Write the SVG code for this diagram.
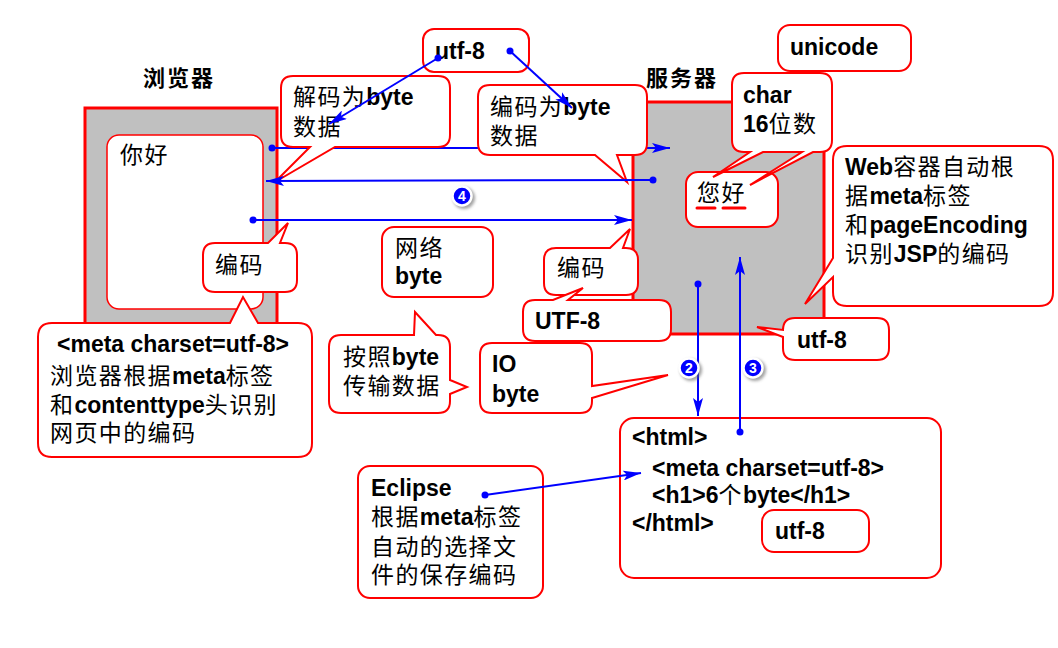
<svg xmlns="http://www.w3.org/2000/svg" width="1058" height="648" viewBox="0 0 1058 648">
<defs>
<style>
.t{font-family:"Liberation Sans","Noto Sans CJK SC",sans-serif;font-size:23px;fill:#000;letter-spacing:1.4px}
.b{font-weight:bold;letter-spacing:0}
.lbl{font-family:"Noto Sans CJK SC",sans-serif;font-size:22px;font-weight:bold;letter-spacing:2px;fill:#000}
.co{fill:#fff;stroke:#f00;stroke-width:2;stroke-linejoin:miter}
.sys{fill:#c0c0c0;stroke:#f00;stroke-width:3}
.ln{stroke:#00f;stroke-width:2;fill:none}
.arr{marker-end:url(#ah)}
.dot{fill:#00f}
.num{fill:#00f;stroke:#fff;stroke-width:2.5}
.nt{font-family:"Liberation Sans",sans-serif;font-size:14px;font-weight:bold;fill:#fff;text-anchor:middle}
.ul{stroke:#f00;stroke-width:3;stroke-linecap:round}
.uls{stroke:#999;stroke-width:3;stroke-linecap:round;opacity:.5}
</style>
<marker id="ah" markerUnits="userSpaceOnUse" markerWidth="18" markerHeight="10" refX="18" refY="5" orient="auto">
<path d="M0,0 L18,5 L0,10 L4,5 Z" fill="#00f"/>
</marker>
<filter id="sh" x="-50%" y="-50%" width="200%" height="200%"><feGaussianBlur stdDeviation="1.5"/></filter>
</defs>
<rect width="1058" height="648" fill="#fff"/>

<g id="browser">
<rect class="sys" x="85" y="108" width="192" height="232"/>
<rect x="107" y="135" width="156" height="174" rx="12" fill="#fff" stroke="#f00" stroke-width="1.5"/>
<text class="lbl" x="143" y="86">浏览器</text>
<text class="t" x="120" y="163">你好</text>
</g>
<g id="server">
<rect class="sys" x="633" y="102" width="191" height="232"/>
<text class="lbl" x="646" y="86">服务器</text>
</g>

<g id="connectors-back">
<line class="ln arr" x1="272" y1="148" x2="670" y2="148"/>
<circle class="dot" cx="272" cy="148" r="3.5"/>
</g>

<g id="n-utf8-top"><rect class="co" x="423" y="29" width="106" height="43" rx="11"/><text class="t b" x="435" y="59">utf-8</text></g>
<g id="n-decode"><path class="co" d="M293,76 H438 Q450,76 450,88 V135 Q450,147 438,147 H335 L275,182 L310,147 H293 Q281,147 281,135 V88 Q281,76 293,76 Z"/><text class="t" x="293" y="105">解码为<tspan class="b">byte</tspan></text><text class="t" x="293" y="135">数据</text></g>
<g id="n-encode"><path class="co" d="M490,85 H635 Q647,85 647,97 V143 Q647,155 635,155 H617 L627,182 L595,155 H490 Q478,155 478,143 V97 Q478,85 490,85 Z"/><text class="t" x="490" y="115">编码为<tspan class="b">byte</tspan></text><text class="t" x="490" y="144">数据</text></g>
<g id="n-unicode"><rect class="co" x="778" y="25" width="133" height="46" rx="12"/><text class="t b" x="790" y="55">unicode</text></g>
<g id="n-nihao"><rect class="co" x="686" y="172" width="92" height="55" rx="12"/>
<line class="uls" x1="699" y1="211" x2="717" y2="211" filter="url(#sh)"/><line class="uls" x1="725" y1="211" x2="747" y2="211" filter="url(#sh)"/>
<line class="ul" x1="697" y1="208" x2="715" y2="208"/><line class="ul" x1="723" y1="208" x2="745" y2="208"/>
<text class="t" x="697" y="201">您好</text></g>
<g id="n-char"><path class="co" d="M744,73 H820 Q832,73 832,85 V140 Q832,152 820,152 H813 L750,185 L802,152 H763 L713,177 L750,152 H744 Q732,152 732,140 V85 Q732,73 744,73 Z"/><text class="t b" x="743" y="103">char</text><text class="t" x="743" y="132"><tspan class="b">16</tspan>位数</text></g>
<g id="n-web"><path class="co" d="M847,146 H1039 Q1053,146 1053,160 V292 Q1053,306 1039,306 H847 Q833,306 833,292 V277 L805,304 L833,258 V160 Q833,146 847,146 Z"/>
<text class="t" x="845" y="175"><tspan class="b">Web</tspan>容器自动根</text>
<text class="t" x="845" y="204">据<tspan class="b">meta</tspan>标签</text>
<text class="t" x="845" y="233">和<tspan class="b">pageEncoding</tspan></text>
<text class="t" x="845" y="262">识别<tspan class="b">JSP</tspan>的编码</text></g>
<g id="n-encode-left"><path class="co" d="M215,243 H268 L288,223 L280,243 H285 Q297,243 297,255 V280 Q297,292 285,292 H215 Q203,292 203,280 V255 Q203,243 215,243 Z"/><text class="t" x="215" y="273">编码</text></g>
<g id="n-meta"><path class="co" d="M52,323 H230 L243,297 L258,323 H298 Q312,323 312,337 V443 Q312,457 298,457 H52 Q38,457 38,443 V337 Q38,323 52,323 Z"/>
<text class="t b" x="57" y="352">&lt;meta charset=utf-8&gt;</text>
<text class="t" x="50" y="384">浏览器根据<tspan class="b">meta</tspan>标签</text>
<text class="t" x="50" y="413">和<tspan class="b">contenttype</tspan>头识别</text>
<text class="t" x="50" y="441">网页中的编码</text></g>
<g id="n-network"><rect class="co" x="382" y="227" width="111" height="70" rx="12"/><text class="t" x="395" y="256">网络</text><text class="t b" x="395" y="284">byte</text></g>
<g id="n-transfer"><path class="co" d="M341,335 H414 L415,312 L436,335 H438 Q450,335 450,347 V380 L467,387 L450,394 V401 Q450,413 438,413 H341 Q329,413 329,401 V347 Q329,335 341,335 Z"/><text class="t" x="343" y="365">按照<tspan class="b">byte</tspan></text><text class="t" x="343" y="394">传输数据</text></g>
<g id="n-encode-server"><path class="co" d="M556,248 H610 L630,229 L623,248 H626 Q638,248 638,260 V283 Q638,295 626,295 H556 Q544,295 544,283 V260 Q544,248 556,248 Z"/><text class="t" x="557" y="276">编码</text></g>
<g id="n-UTF8"><path class="co" d="M535,300 H553 L583,288 L568,300 H659 Q671,300 671,312 V329 Q671,341 659,341 H535 Q523,341 523,329 V312 Q523,300 535,300 Z"/><text class="t b" x="535" y="329">UTF-8</text></g>
<g id="n-io"><path class="co" d="M492,343 H580 Q592,343 592,355 V386 L668,375 L592,398 V401 Q592,413 580,413 H492 Q480,413 480,401 V355 Q480,343 492,343 Z"/><text class="t b" x="492" y="372">IO</text><text class="t b" x="492" y="402">byte</text></g>
<g id="n-utf8-server"><path class="co" d="M795,318 H877 Q889,318 889,330 V348 Q889,360 877,360 H795 Q783,360 783,348 V337 L757,327 L783,330 Q783,318 795,318 Z"/><text class="t b" x="797" y="348">utf-8</text></g>
<g id="n-html"><rect class="co" x="620" y="418" width="321" height="160" rx="14"/>
<text class="t b" x="632" y="445">&lt;html&gt;</text>
<text class="t b" x="652" y="476">&lt;meta charset=utf-8&gt;</text>
<text class="t" x="652" y="503"><tspan class="b">&lt;h1&gt;6</tspan>个<tspan class="b">byte&lt;/h1&gt;</tspan></text>
<text class="t b" x="632" y="531">&lt;/html&gt;</text></g>
<g id="n-utf8-file"><rect class="co" x="762" y="510" width="107" height="42" rx="12"/><text class="t b" x="775" y="539">utf-8</text></g>
<g id="n-eclipse"><rect class="co" x="358" y="466" width="185" height="132" rx="12"/>
<text class="t b" x="371" y="496">Eclipse</text>
<text class="t" x="371" y="525">根据<tspan class="b">meta</tspan>标签</text>
<text class="t" x="371" y="555">自动的选择文</text>
<text class="t" x="371" y="583">件的保存编码</text></g>

<g id="connectors">
<line class="ln arr" x1="653" y1="180" x2="266" y2="181"/><circle class="dot" cx="653" cy="180" r="3.5"/>
<line class="ln arr" x1="253" y1="220" x2="632" y2="220"/><circle class="dot" cx="253" cy="220" r="3.5"/>
<line class="ln arr" x1="438" y1="58" x2="329" y2="124"/><circle class="dot" cx="438" cy="58" r="3.5"/>
<line class="ln arr" x1="510" y1="51" x2="572" y2="108"/><circle class="dot" cx="510" cy="51" r="3.5"/>
<line class="ln arr" x1="698" y1="284" x2="698" y2="416"/><circle class="dot" cx="698" cy="284" r="3.5"/>
<line class="ln arr" x1="740" y1="432" x2="740" y2="257"/><circle class="dot" cx="740" cy="432" r="3.5"/>
<line class="ln arr" x1="485" y1="495" x2="641" y2="473"/><circle class="dot" cx="485" cy="495" r="3.5"/>
</g>

<g id="badges">
<circle cx="464" cy="198" r="11" fill="#666" opacity=".6" filter="url(#sh)"/><circle class="num" cx="462" cy="196" r="9.5"/><text class="nt" x="462" y="201">4</text>
<circle cx="691" cy="370" r="11" fill="#666" opacity=".6" filter="url(#sh)"/><circle class="num" cx="689" cy="368" r="9.5"/><text class="nt" x="689" y="373">2</text>
<circle cx="755" cy="370" r="11" fill="#666" opacity=".6" filter="url(#sh)"/><circle class="num" cx="753" cy="368" r="9.5"/><text class="nt" x="753" y="373">3</text>
</g>
</svg>
